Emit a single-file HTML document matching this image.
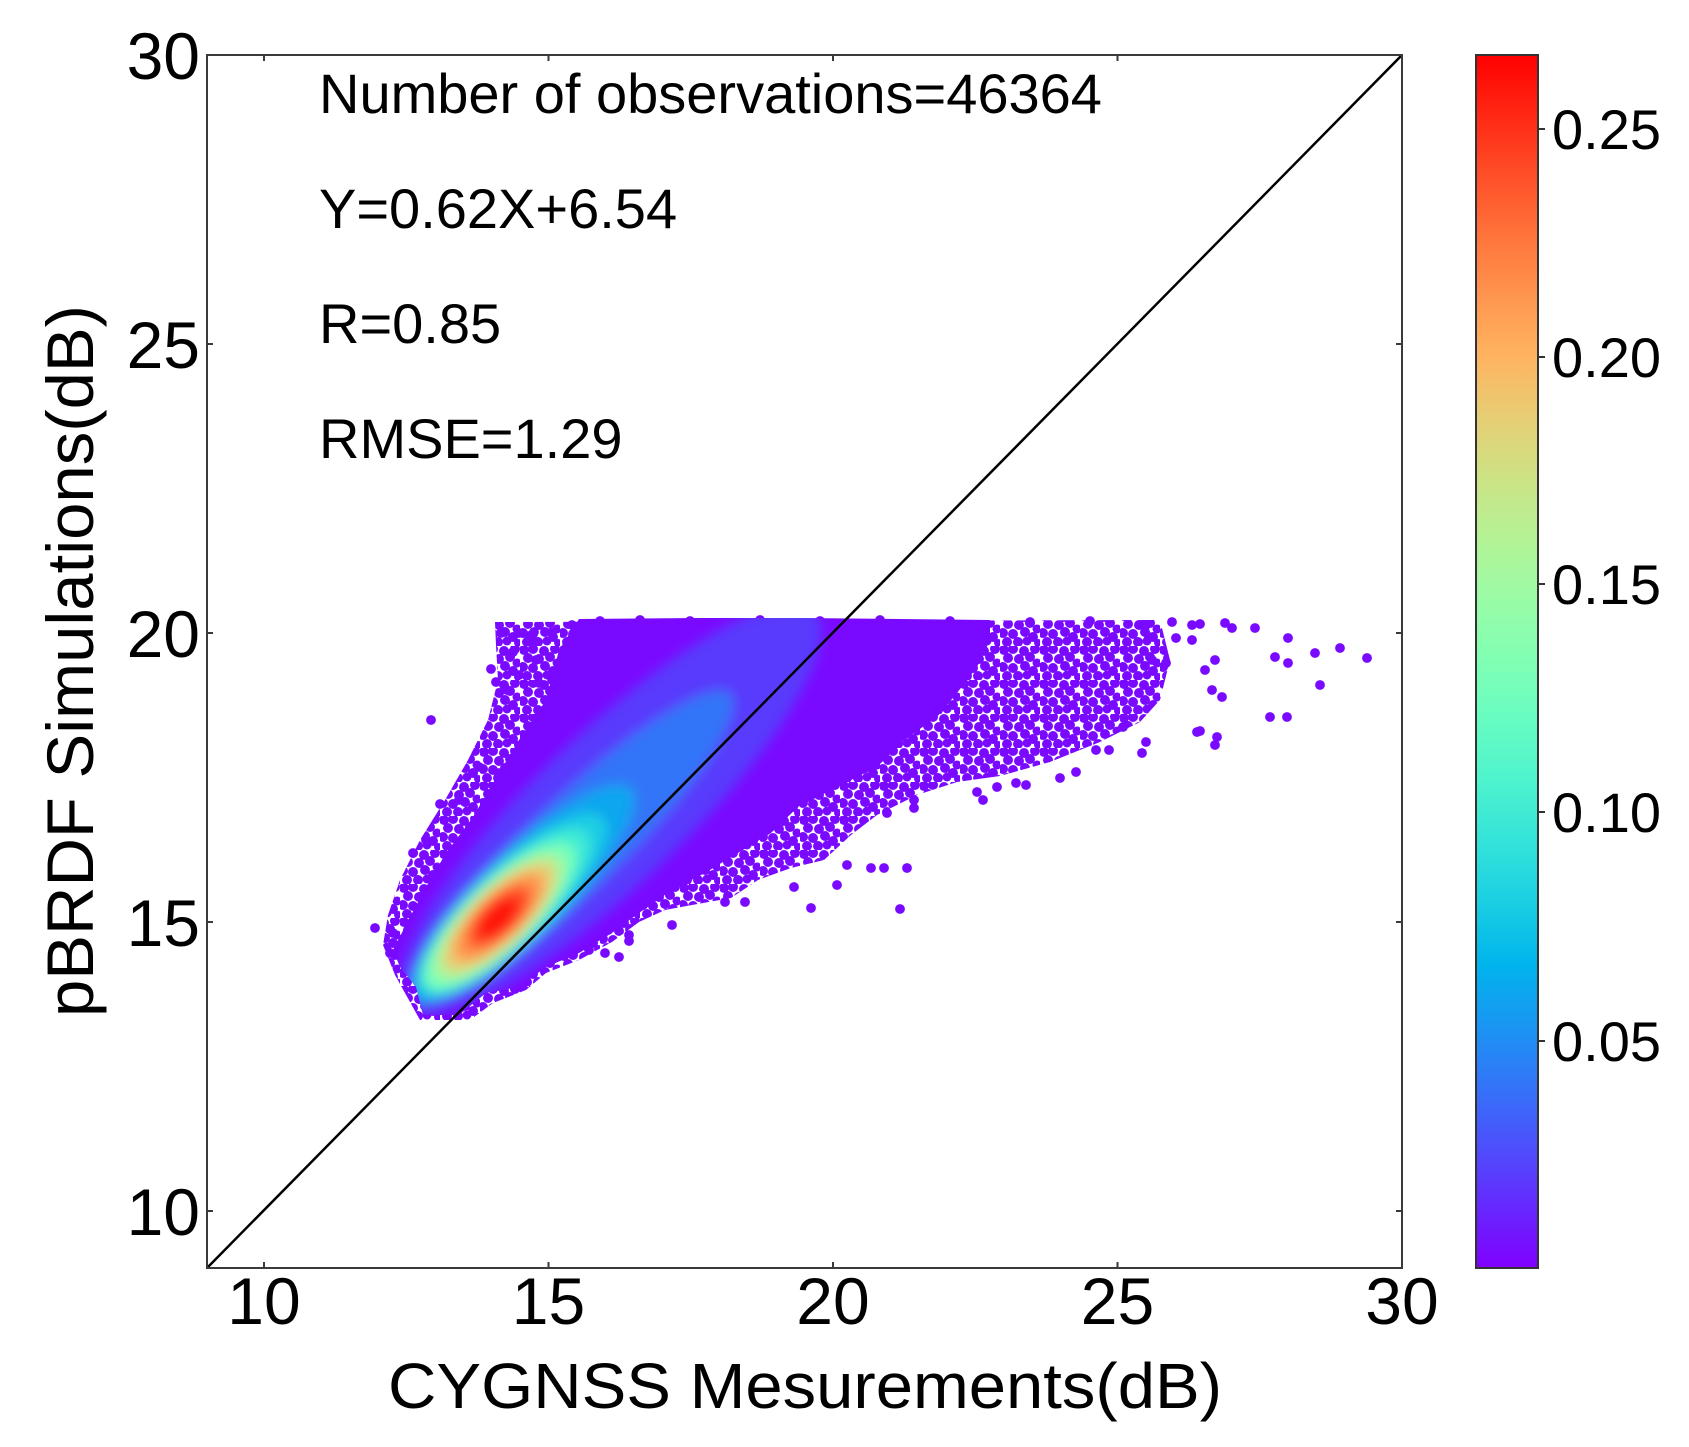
<!DOCTYPE html>
<html><head><meta charset="utf-8"><style>
html,body{margin:0;padding:0;background:#fff;}
svg{display:block;}
text{font-family:"Liberation Sans",Arial,sans-serif;fill:#000;}
</style></head><body>
<svg xmlns="http://www.w3.org/2000/svg" width="1689" height="1447" viewBox="0 0 1689 1447">
<defs>
<linearGradient id="cb" x1="0" y1="1" x2="0" y2="0">
<stop offset="0" stop-color="#8000ff"/><stop offset="0.05" stop-color="#6628fe"/><stop offset="0.1" stop-color="#4d4ffc"/><stop offset="0.15" stop-color="#3374f8"/><stop offset="0.2" stop-color="#1a96f3"/><stop offset="0.25" stop-color="#00b4ec"/><stop offset="0.3" stop-color="#1acee3"/><stop offset="0.35" stop-color="#33e3da"/><stop offset="0.4" stop-color="#4df3ce"/><stop offset="0.45" stop-color="#66fcc2"/><stop offset="0.5" stop-color="#80ffb4"/><stop offset="0.55" stop-color="#99fca6"/><stop offset="0.6" stop-color="#b3f396"/><stop offset="0.65" stop-color="#cce385"/><stop offset="0.7" stop-color="#e6ce74"/><stop offset="0.75" stop-color="#ffb462"/><stop offset="0.8" stop-color="#ff964f"/><stop offset="0.85" stop-color="#ff743b"/><stop offset="0.9" stop-color="#ff4f28"/><stop offset="0.95" stop-color="#ff2814"/><stop offset="1" stop-color="#ff0000"/>
</linearGradient>
<pattern id="dots" width="40" height="34" patternUnits="userSpaceOnUse">
<g fill="#7a0aff">
<circle cx="4" cy="4" r="5"/><circle cx="13" cy="3" r="5"/><circle cx="24" cy="5" r="5"/><circle cx="35" cy="3" r="5"/>
<circle cx="8" cy="12" r="5"/><circle cx="19" cy="13" r="5"/><circle cx="30" cy="11" r="5"/><circle cx="37" cy="17" r="4.5"/>
<circle cx="3" cy="21" r="5"/><circle cx="13" cy="22" r="5"/><circle cx="25" cy="20" r="5"/><circle cx="33" cy="25" r="5"/>
<circle cx="7" cy="30" r="5"/><circle cx="18" cy="30" r="5"/><circle cx="27" cy="29" r="4.5"/><circle cx="38" cy="31" r="4"/>
</g>
</pattern>
<clipPath id="cloud"><polygon points="579,619 700,618 800,618 900,619 990,620 990,640 977,667 957,693 937,717 904,740 877,767 837,787 798,807 771,833 738,853 705,873 672,890 639,913 612,933 579,953 546,967 519,987 486,993 459,1015 423,1015 416,987 400,967 393,950 410,917 426,887 446,853 473,817 493,783 519,740 546,700 559,650"/></clipPath>
<filter id="blur" x="-30%" y="-30%" width="160%" height="160%"><feGaussianBlur stdDeviation="6"/></filter>
</defs>
<rect width="1689" height="1447" fill="#fff"/>

<polygon fill="url(#dots)" points="495,622 1160,620 1170,660 1160,700 1140,722 1100,742 1050,762 1000,776 957,782 917,795 877,815 851,835 824,860 791,868 758,880 731,898 692,905 665,910 639,922 612,942 579,960 546,973 526,990 493,1003 470,1020 420,1020 395,975 383,945 388,915 400,880 420,840 445,800 468,760 488,720 498,680 496,645"/>

<g fill="#7a0aff">
<circle cx="501" cy="633" r="4.9"/><circle cx="519" cy="633" r="4.9"/><circle cx="534" cy="632" r="4.9"/><circle cx="552" cy="632" r="4.9"/><circle cx="572" cy="625" r="4.9"/><circle cx="529" cy="636" r="4.9"/><circle cx="491" cy="669" r="4.9"/><circle cx="496" cy="682" r="4.9"/><circle cx="507" cy="690" r="4.9"/><circle cx="513" cy="652" r="4.9"/><circle cx="519" cy="675" r="4.9"/><circle cx="536" cy="660" r="4.9"/><circle cx="532" cy="643" r="4.9"/><circle cx="539" cy="683" r="4.9"/><circle cx="552" cy="680" r="4.9"/><circle cx="559" cy="670" r="4.9"/><circle cx="431" cy="720" r="4.9"/><circle cx="440" cy="804" r="4.9"/><circle cx="459" cy="800" r="4.9"/><circle cx="479" cy="767" r="4.9"/><circle cx="499" cy="773" r="4.9"/><circle cx="413" cy="853" r="4.9"/><circle cx="426" cy="840" r="4.9"/><circle cx="375" cy="928" r="4.9"/><circle cx="393" cy="933" r="4.9"/><circle cx="390" cy="953" r="4.9"/>
<circle cx="519" cy="987" r="4.9"/><circle cx="539" cy="967" r="4.9"/><circle cx="589" cy="950" r="4.9"/><circle cx="605" cy="953" r="4.9"/><circle cx="619" cy="957" r="4.9"/><circle cx="629" cy="935" r="4.9"/><circle cx="629" cy="941" r="4.9"/><circle cx="672" cy="925" r="4.9"/><circle cx="725" cy="902" r="4.9"/><circle cx="745" cy="902" r="4.9"/><circle cx="794" cy="887" r="4.9"/><circle cx="811" cy="908" r="4.9"/><circle cx="837" cy="885" r="4.9"/><circle cx="847" cy="865" r="4.9"/><circle cx="871" cy="868" r="4.9"/><circle cx="884" cy="868" r="4.9"/><circle cx="907" cy="868" r="4.9"/><circle cx="900" cy="909" r="4.9"/><circle cx="887" cy="813" r="4.9"/><circle cx="914" cy="800" r="4.9"/><circle cx="914" cy="808" r="4.9"/><circle cx="977" cy="792" r="4.9"/><circle cx="983" cy="800" r="4.9"/><circle cx="997" cy="787" r="4.9"/><circle cx="1016" cy="783" r="4.9"/><circle cx="1026" cy="785" r="4.9"/><circle cx="1060" cy="778" r="4.9"/><circle cx="1076" cy="772" r="4.9"/><circle cx="1096" cy="750" r="4.9"/><circle cx="1109" cy="750" r="4.9"/><circle cx="1123" cy="727" r="4.9"/><circle cx="1142" cy="753" r="4.9"/><circle cx="1146" cy="742" r="4.9"/>
<circle cx="1146" cy="625" r="4.9"/><circle cx="1149" cy="637" r="4.9"/><circle cx="1152" cy="660" r="4.9"/><circle cx="1166" cy="663" r="4.9"/><circle cx="1172" cy="622" r="4.9"/><circle cx="1176" cy="638" r="4.9"/><circle cx="1192" cy="625" r="4.9"/><circle cx="1192" cy="640" r="4.9"/><circle cx="1200" cy="624" r="4.9"/><circle cx="1205" cy="670" r="4.9"/><circle cx="1212" cy="690" r="4.9"/><circle cx="1215" cy="660" r="4.9"/><circle cx="1222" cy="697" r="4.9"/><circle cx="1225" cy="623" r="4.9"/><circle cx="1232" cy="628" r="4.9"/><circle cx="1255" cy="628" r="4.9"/><circle cx="1275" cy="657" r="4.9"/><circle cx="1288" cy="638" r="4.9"/><circle cx="1288" cy="663" r="4.9"/><circle cx="1315" cy="653" r="4.9"/><circle cx="1340" cy="648" r="4.9"/><circle cx="1367" cy="658" r="4.9"/><circle cx="1320" cy="685" r="4.9"/><circle cx="1270" cy="717" r="4.9"/><circle cx="1287" cy="717" r="4.9"/><circle cx="1197" cy="732" r="4.9"/><circle cx="1217" cy="737" r="4.9"/><circle cx="1215" cy="745" r="4.9"/><circle cx="1200" cy="731" r="4.9"/>
<circle cx="600" cy="621" r="4.9"/><circle cx="640" cy="620" r="4.9"/><circle cx="690" cy="621" r="4.9"/><circle cx="760" cy="620" r="4.9"/><circle cx="820" cy="621" r="4.9"/><circle cx="880" cy="620" r="4.9"/><circle cx="950" cy="621" r="4.9"/><circle cx="1030" cy="622" r="4.9"/><circle cx="1090" cy="621" r="4.9"/>
</g>

<polygon fill="#7a0aff" points="579,619 700,618 800,618 900,619 990,620 990,640 977,667 957,693 937,717 904,740 877,767 837,787 798,807 771,833 738,853 705,873 672,890 639,913 612,933 579,953 546,967 519,987 486,993 459,1015 423,1015 416,987 400,967 393,950 410,917 426,887 446,853 473,817 493,783 519,740 546,700 559,650"/>

<g clip-path="url(#cloud)">
<g filter="url(#blur)">
<ellipse cx="610" cy="809" rx="285" ry="75" fill="#593bfd" transform="rotate(-44 610 809)"/>
<ellipse cx="571" cy="848" rx="222" ry="46" fill="#3374f8" transform="rotate(-44 571 848)"/>
<ellipse cx="523" cy="893" rx="150" ry="42" fill="#0da6ef" transform="rotate(-44 523 893)"/>
<ellipse cx="512" cy="905" rx="126" ry="39" fill="#1acee3" transform="rotate(-44 512 905)"/>
<ellipse cx="505" cy="911" rx="112" ry="36" fill="#40ecd4" transform="rotate(-44 505 911)"/>
<ellipse cx="500" cy="916" rx="100" ry="33" fill="#79ffb8" transform="rotate(-44 500 916)"/>
<ellipse cx="499" cy="917" rx="85" ry="30" fill="#b3f296" transform="rotate(-44 499 917)"/>
<ellipse cx="499" cy="917" rx="72" ry="26" fill="#edc76f" transform="rotate(-44 499 917)"/>
<ellipse cx="499" cy="917" rx="57" ry="22" fill="#ff914c" transform="rotate(-44 499 917)"/>
<ellipse cx="499" cy="917" rx="40" ry="18" fill="#ff4e27" transform="rotate(-44 499 917)"/>
<ellipse cx="498" cy="918" rx="26" ry="13" fill="#ff1209" transform="rotate(-44 498 918)"/>
</g>
</g>

<line x1="207" y1="1268" x2="1402" y2="55" stroke="#000" stroke-width="2.5"/>

<rect x="207" y="55" width="1195" height="1213" fill="none" stroke="#3a3a3a" stroke-width="2"/>
<g stroke="#3a3a3a" stroke-width="2">
<line x1="264" y1="1268" x2="264" y2="1262"/><line x1="548.5" y1="1268" x2="548.5" y2="1262"/><line x1="833" y1="1268" x2="833" y2="1262"/><line x1="1117.5" y1="1268" x2="1117.5" y2="1262"/>
<line x1="264" y1="55" x2="264" y2="61"/><line x1="548.5" y1="55" x2="548.5" y2="61"/><line x1="833" y1="55" x2="833" y2="61"/><line x1="1117.5" y1="55" x2="1117.5" y2="61"/>
<line x1="207" y1="344" x2="213" y2="344"/><line x1="207" y1="633" x2="213" y2="633"/><line x1="207" y1="922" x2="213" y2="922"/><line x1="207" y1="1211" x2="213" y2="1211"/>
<line x1="1402" y1="344" x2="1396" y2="344"/><line x1="1402" y1="633" x2="1396" y2="633"/><line x1="1402" y1="922" x2="1396" y2="922"/><line x1="1402" y1="1211" x2="1396" y2="1211"/>
</g>

<g font-size="66" text-anchor="end">
<text x="200" y="79">30</text><text x="200" y="368">25</text><text x="200" y="657">20</text><text x="200" y="946">15</text><text x="200" y="1235">10</text>
</g>
<g font-size="66" text-anchor="middle">
<text x="264" y="1324">10</text><text x="548.5" y="1324">15</text><text x="833" y="1324">20</text><text x="1117.5" y="1324">25</text><text x="1402" y="1324">30</text>
</g>

<text x="805" y="1408" font-size="64" text-anchor="middle" textLength="834" lengthAdjust="spacingAndGlyphs">CYGNSS Mesurements(dB)</text>
<text transform="translate(93,661) rotate(-90)" font-size="66" text-anchor="middle" textLength="712" lengthAdjust="spacingAndGlyphs">pBRDF Simulations(dB)</text>

<g font-size="56">
<text x="319" y="113">Number of observations=46364</text>
<text x="319" y="228">Y=0.62X+6.54</text>
<text x="319" y="343">R=0.85</text>
<text x="319" y="458">RMSE=1.29</text>
</g>

<rect x="1476" y="55" width="62" height="1213" fill="url(#cb)" stroke="#333" stroke-width="2"/>
<g stroke="#333" stroke-width="2">
<line x1="1538" y1="129" x2="1545" y2="129"/><line x1="1538" y1="357" x2="1545" y2="357"/><line x1="1538" y1="584" x2="1545" y2="584"/><line x1="1538" y1="812" x2="1545" y2="812"/><line x1="1538" y1="1041" x2="1545" y2="1041"/>
</g>
<g font-size="56">
<text x="1552" y="149">0.25</text><text x="1552" y="377">0.20</text><text x="1552" y="604">0.15</text><text x="1552" y="832">0.10</text><text x="1552" y="1061">0.05</text>
</g>
</svg>
</body></html>
